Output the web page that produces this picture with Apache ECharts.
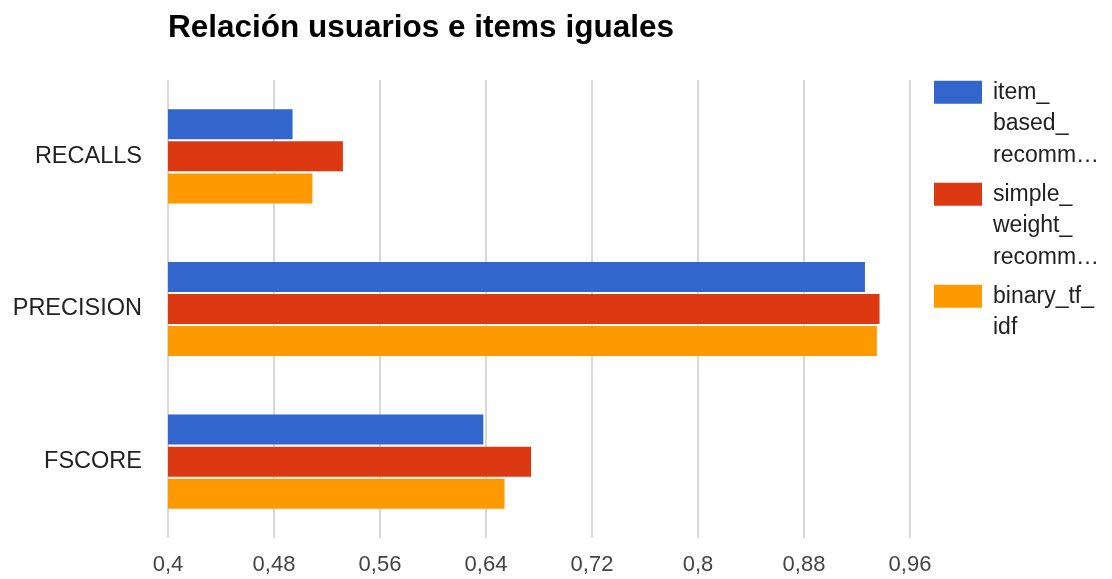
<!DOCTYPE html>
<html>
<head>
<meta charset="utf-8">
<script src="https://cdn.jsdelivr.net/npm/echarts@6/dist/echarts.min.js"></script>
<style>html,body{margin:0;padding:0;background:#fff}#c{width:1112px;height:579px}</style>
</head>
<body>
<div id="c"></div>
<script>
var titleText = 'Relación usuarios e items iguales';
var categories = ['RECALLS', 'PRECISION', 'FSCORE'];
var seriesNames = ['item_based_recomm', 'simple_weight_recomm', 'binary_tf_idf'];
var legendLabels = ['item_\nbased_\nrecomm…', 'simple_\nweight_\nrecomm…', 'binary_tf_\nidf'];
var itemBased = [0.494, 0.926, 0.638];
var simpleWeight = [0.532, 0.937, 0.674];
var binaryTfIdf = [0.509, 0.935, 0.654];
var xMin = 0.4, xMax = 0.96, xStep = 0.08;
var colors = ['#3366CC', '#DC3912', '#FF9900'];

var values = [itemBased, simpleWeight, binaryTfIdf];
var chart = echarts.init(document.getElementById('c'));
var L = 31.5;
function legendText(n) {
  // pad with blank lines so the first line sits beside the swatch
  var lines = legendLabels[seriesNames.indexOf(n)].split('\n');
  while (lines.length < 3) lines.push(' ');
  return [' ', ' '].concat(lines).join('\n');
}
chart.setOption({
  animation: false,
  color: colors,
  title: {
    text: titleText, left: 163, top: 7,
    textStyle: {fontFamily: 'Liberation Sans, Arial', fontSize: 31.5, fontWeight: 'bold', color: '#000'}
  },
  legend: {
    orient: 'vertical', left: 934, top: 13.5, padding: 0,
    itemWidth: 48, itemHeight: 23, itemGap: 102 - 5 * L,
    icon: 'rect', selectedMode: false,
    data: seriesNames,
    formatter: legendText,
    textStyle: {fontFamily: 'Liberation Sans, Arial', fontSize: 23, color: '#222', lineHeight: L,
      padding: [0, 0, 0, 6]}
  },
  grid: {left: 168, right: 202, top: 80, bottom: 41, containLabel: false},
  xAxis: {
    type: 'value', min: xMin, max: xMax, interval: xStep,
    axisLine: {show: false}, axisTick: {show: false},
    splitLine: {lineStyle: {color: '#cccccc', width: 1.5}},
    axisLabel: {fontFamily: 'Liberation Sans, Arial', fontSize: 22, color: '#444', margin: 16,
      formatter: function (v) { return String(+v.toFixed(2)).replace('.', ','); }}
  },
  yAxis: {
    type: 'category', data: categories, inverse: true,
    axisLine: {show: false}, axisTick: {show: false},
    axisLabel: {fontFamily: 'Liberation Sans, Arial', fontSize: 23.5, color: '#222', margin: 26}
  },
  series: values.map(function (d, i) {
    return {type: 'bar', name: seriesNames[i], data: d, barWidth: 30, barGap: '7%',
      itemStyle: {color: colors[i]}};
  })
});
</script>
</body>
</html>
